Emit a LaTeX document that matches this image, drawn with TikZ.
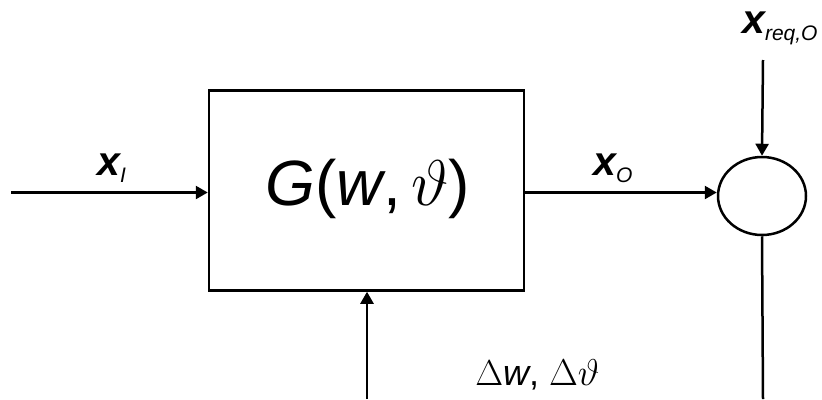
\documentclass[tikz,border=0pt]{standalone}
\usepackage{graphicx}
\usepackage{fontspec}
\setmainfont{Liberation Sans}
\usetikzlibrary{arrows.meta,shapes.geometric}

\newcommand{\bigx}{{\fontsize{41}{41}\selectfont\bfseries\itshape x}}
\newcommand{\subtxt}[1]{{\fontsize{21}{21}\selectfont\itshape #1}}
% math glyphs stop growing at 24.88pt, so scale them up
\newcommand{\mbig}[2]{{\fontsize{24.88}{24.88}\selectfont\scalebox{#1}{$#2$}}}

\begin{document}
\begin{tikzpicture}[x=1pt, y=-1pt, line width=2.5pt,
  sig/.style={-{Triangle[length=12pt, width=13pt]}},
  lbl/.style={anchor=base, inner sep=0pt}]
  \useasboundingbox (0,0) rectangle (822,399);
  % plant block and summing point
  \node[draw, minimum width=315pt, minimum height=200pt, inner sep=0pt] (plant) at (366.5,190.5) {};
  \node[lbl] (gtxt) at (368,205) {\fontsize{64}{64}\selectfont\itshape G\upshape(\itshape w\upshape,\,\mbig{2.6}{\vartheta})};
  \node[draw, ellipse, minimum width=88pt, minimum height=78pt, inner sep=0pt] (sum) at (762,196) {};
  % free ends
  \coordinate (in) at (11,192.5);
  \coordinate (dist) at (367,399);
  \coordinate (ref) at (763,60);
  \coordinate (fb) at (763,399);
  % signals
  \draw[sig] (in) -- (in -| plant.west);
  \draw[sig] (plant.east |- in) -- (sum.west |- in);
  \draw[sig] (dist) -- (dist |- plant.south);
  \draw[sig] (ref) -- (sum.north);
  \draw (sum.south) -- (fb);
  % labels
  \node[lbl, anchor=base west] (xi) at (96,175) {\bigx\raisebox{-7pt}{\subtxt{I}}};
  \node[lbl, anchor=base west] (xo) at (592,175) {\bigx\raisebox{-7pt}{\subtxt{O}}};
  \node[lbl, anchor=base west] (xr) at (741,33) {\bigx\raisebox{-7pt}{\subtxt{req,O}}};
  \node[lbl, anchor=base west] (dw) at (474,385) {\fontsize{36}{36}\selectfont\mbig{1.45}{\Delta}\itshape w\upshape, \mbig{1.5}{\Delta\vartheta}};
\end{tikzpicture}
\end{document}
